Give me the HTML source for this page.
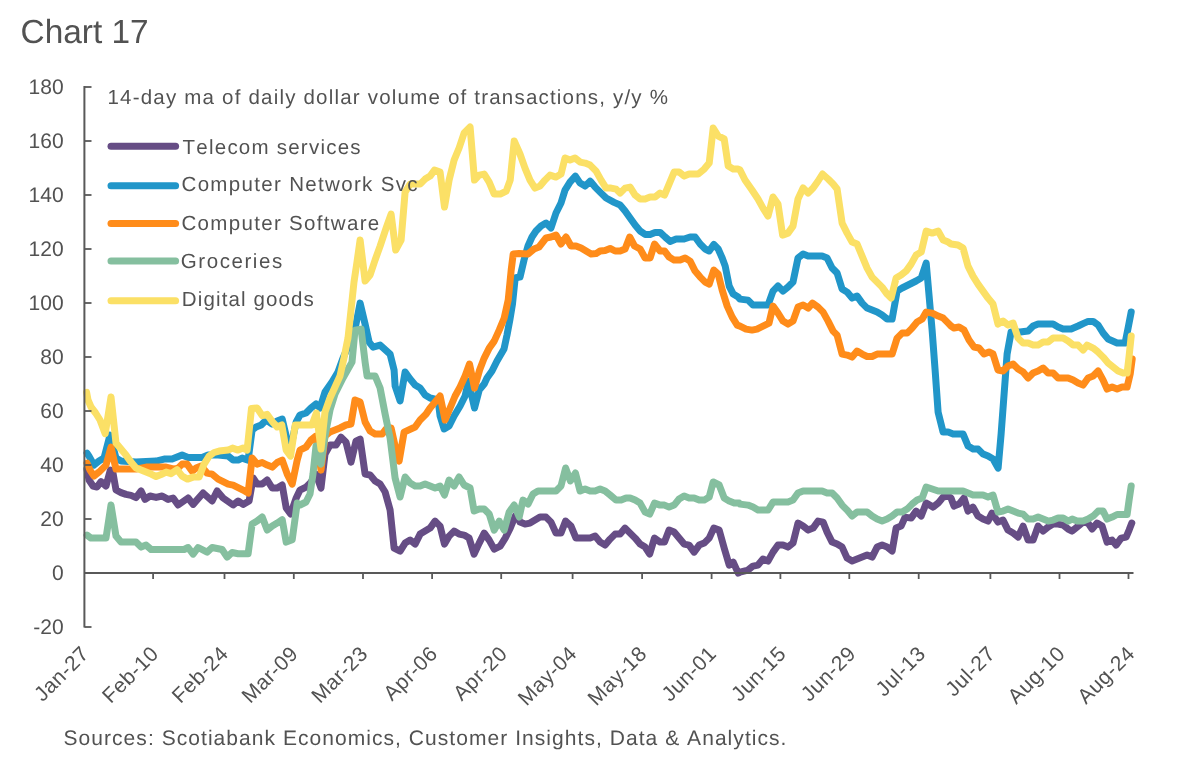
<!DOCTYPE html>
<html><head><meta charset="utf-8"><title>Chart 17</title>
<style>
html,body{margin:0;padding:0;background:#fff;}
body{width:1189px;height:762px;overflow:hidden;position:relative;font-family:"Liberation Sans",sans-serif;}
svg{position:absolute;left:0;top:0;will-change:transform;}
text{font-family:"Liberation Sans",sans-serif;fill:#525252;font-kerning:none;text-rendering:geometricPrecision;}
.ln{fill:none;stroke-width:7;stroke-linejoin:round;stroke-linecap:round;}
</style></head><body>
<svg width="1189" height="762" viewBox="0 0 1189 762">
<rect width="1189" height="762" fill="#fff"/>
<text x="20.6" y="43" font-size="33.4" fill="#5a5a5a">Chart 17</text>
<text x="63.6" y="94.4" font-size="21" text-anchor="end">180</text><text x="63.6" y="148.4" font-size="21" text-anchor="end">160</text><text x="63.6" y="202.4" font-size="21" text-anchor="end">140</text><text x="63.6" y="256.4" font-size="21" text-anchor="end">120</text><text x="63.6" y="310.4" font-size="21" text-anchor="end">100</text><text x="63.6" y="364.4" font-size="21" text-anchor="end">80</text><text x="63.6" y="418.4" font-size="21" text-anchor="end">60</text><text x="63.6" y="472.4" font-size="21" text-anchor="end">40</text><text x="63.6" y="526.4" font-size="21" text-anchor="end">20</text><text x="63.6" y="580.4" font-size="21" text-anchor="end">0</text><text x="63.6" y="634.4" font-size="21" text-anchor="end">-20</text>
<text transform="translate(90.2 655) rotate(-45)" font-size="21" letter-spacing="0.5" text-anchor="end">Jan-27</text><text transform="translate(159.9 655) rotate(-45)" font-size="21" letter-spacing="0.5" text-anchor="end">Feb-10</text><text transform="translate(229.6 655) rotate(-45)" font-size="21" letter-spacing="0.5" text-anchor="end">Feb-24</text><text transform="translate(299.4 655) rotate(-45)" font-size="21" letter-spacing="0.5" text-anchor="end">Mar-09</text><text transform="translate(369.1 655) rotate(-45)" font-size="21" letter-spacing="0.5" text-anchor="end">Mar-23</text><text transform="translate(438.8 655) rotate(-45)" font-size="21" letter-spacing="0.5" text-anchor="end">Apr-06</text><text transform="translate(508.5 655) rotate(-45)" font-size="21" letter-spacing="0.5" text-anchor="end">Apr-20</text><text transform="translate(578.2 655) rotate(-45)" font-size="21" letter-spacing="0.5" text-anchor="end">May-04</text><text transform="translate(648.0 655) rotate(-45)" font-size="21" letter-spacing="0.5" text-anchor="end">May-18</text><text transform="translate(717.7 655) rotate(-45)" font-size="21" letter-spacing="0.5" text-anchor="end">Jun-01</text><text transform="translate(787.4 655) rotate(-45)" font-size="21" letter-spacing="0.5" text-anchor="end">Jun-15</text><text transform="translate(857.1 655) rotate(-45)" font-size="21" letter-spacing="0.5" text-anchor="end">Jun-29</text><text transform="translate(926.8 655) rotate(-45)" font-size="21" letter-spacing="0.5" text-anchor="end">Jul-13</text><text transform="translate(996.6 655) rotate(-45)" font-size="21" letter-spacing="0.5" text-anchor="end">Jul-27</text><text transform="translate(1066.3 655) rotate(-45)" font-size="21" letter-spacing="0.5" text-anchor="end">Aug-10</text><text transform="translate(1136.0 655) rotate(-45)" font-size="21" letter-spacing="0.5" text-anchor="end">Aug-24</text>
<text x="107.5" y="104.3" font-size="20.5" letter-spacing="1.2">14-day ma of daily dollar volume of transactions, y/y %</text>
<text x="63.5" y="744.8" font-size="21" letter-spacing="1.05">Sources: Scotiabank Economics, Customer Insights, Data &amp; Analytics.</text>
<path class="ln" stroke="#664d85" d="M87.0 469.0 L89.0 480.0 L93.0 486.0 L97.0 487.0 L101.0 481.6 L106.0 486.0 L110.4 470.0 L113.0 473.0 L116.0 490.0 L121.0 492.6 L126.0 494.4 L131.0 495.4 L136.0 497.6 L141.1 491.0 L145.1 499.4 L150.1 496.0 L156.1 497.4 L162.1 496.0 L168.1 499.4 L173.1 498.0 L178.1 505.0 L188.1 498.0 L193.1 504.4 L203.1 493.0 L212.1 501.0 L217.1 491.0 L223.1 498.0 L233.1 505.0 L238.1 501.0 L243.1 504.4 L249.1 501.0 L253.1 478.0 L257.1 484.0 L262.2 484.0 L267.2 480.0 L272.2 488.0 L277.2 488.0 L282.2 485.0 L286.2 508.0 L290.6 514.0 L296.2 498.0 L300.0 490.1 L306.0 487.1 L311.0 482.1 L316.0 474.1 L321.0 488.1 L325.0 454.1 L330.0 445.1 L336.0 445.1 L341.0 437.1 L346.0 442.1 L351.0 462.1 L356.0 441.1 L360.1 439.1 L365.1 474.1 L370.1 475.0 L375.1 481.0 L380.1 484.0 L385.1 492.0 L390.1 510.0 L394.1 548.1 L400.1 551.1 L405.1 543.1 L410.1 540.1 L415.1 544.1 L420.1 534.1 L425.1 531.1 L430.1 528.1 L435.1 521.1 L440.1 526.1 L444.5 544.1 L449.1 536.1 L454.1 531.1 L459.1 534.1 L464.1 535.1 L469.1 538.1 L474.1 554.1 L479.2 543.1 L484.2 533.1 L489.2 540.1 L494.2 549.1 L500.2 546.1 L505.2 538.1 L510.2 528.1 L515.2 516.0 L519.2 520.1 L520.0 522.1 L525.0 524.1 L530.0 523.1 L535.0 520.1 L540.0 517.1 L546.0 517.1 L551.0 522.1 L556.0 533.1 L561.0 533.1 L565.6 521.1 L571.0 526.1 L576.0 538.1 L590.1 538.1 L595.1 536.1 L600.1 542.1 L605.1 545.1 L610.1 539.1 L615.1 534.1 L620.1 534.1 L625.1 528.1 L630.1 533.1 L635.1 538.1 L640.1 544.1 L645.1 547.1 L649.7 554.1 L654.5 538.1 L660.1 542.1 L664.5 542.1 L669.1 530.1 L674.1 532.1 L679.1 538.1 L684.1 544.1 L689.1 545.1 L694.1 552.1 L699.2 545.1 L704.2 543.1 L709.2 538.1 L713.8 528.1 L719.2 530.1 L724.2 548.1 L729.2 565.1 L733.2 562.1 L738.2 573.1 L740.0 572.1 L748.0 570.1 L753.0 566.1 L758.0 565.1 L763.0 559.1 L768.0 561.1 L773.0 552.1 L778.0 545.1 L783.0 545.1 L788.0 547.1 L793.0 543.1 L798.0 523.1 L803.1 526.1 L808.1 530.1 L813.1 528.1 L818.1 521.1 L823.1 522.1 L827.1 532.1 L832.1 542.1 L837.1 544.1 L842.1 547.1 L847.1 558.1 L852.1 561.1 L857.1 559.1 L862.1 557.1 L867.1 555.1 L872.1 557.1 L877.1 547.1 L882.1 545.1 L887.1 547.1 L892.1 551.1 L896.1 528.1 L901.1 526.1 L905.1 517.1 L911.1 518.1 L916.1 511.1 L921.2 516.1 L926.2 503.1 L933.2 507.1 L938.2 503.1 L943.2 497.0 L948.2 496.0 L951.0 498.0 L954.0 506.1 L959.0 504.1 L964.0 498.0 L968.0 511.1 L973.0 507.1 L978.0 516.1 L983.0 519.1 L988.0 521.1 L992.0 513.1 L998.0 522.1 L1003.0 520.1 L1008.0 530.1 L1013.1 533.1 L1018.1 537.1 L1023.1 526.1 L1028.1 540.1 L1033.1 540.1 L1038.1 526.1 L1043.1 531.1 L1048.1 527.1 L1053.1 524.1 L1058.1 524.1 L1063.1 525.1 L1068.1 529.1 L1072.1 531.1 L1077.1 527.1 L1083.1 522.1 L1088.1 523.1 L1092.1 529.1 L1097.1 523.1 L1102.1 526.1 L1107.1 542.1 L1112.1 540.1 L1116.1 545.1 L1121.1 538.1 L1126.1 537.1 L1129.1 530.1 L1131.8 523.1"/>
<path class="ln" stroke="#2196c9" d="M87.0 453.1 L89.0 456.1 L94.0 465.1 L99.0 461.1 L104.0 458.1 L110.0 435.1 L116.0 458.1 L121.0 461.1 L136.0 462.1 L156.1 461.1 L164.1 459.1 L172.1 459.1 L182.1 455.1 L188.1 457.5 L202.1 457.5 L208.1 455.1 L218.1 455.1 L228.1 456.1 L233.1 460.1 L238.1 460.1 L242.1 458.1 L248.1 460.1 L252.1 430.1 L256.1 427.0 L261.2 425.0 L266.2 420.0 L272.2 424.0 L277.2 421.0 L282.2 419.0 L286.2 436.1 L290.2 450.1 L296.2 422.0 L300.0 415.0 L306.0 413.0 L311.0 408.0 L316.0 404.0 L320.0 408.0 L325.0 392.0 L332.0 382.0 L338.0 372.0 L343.0 358.1 L350.0 342.1 L356.0 324.1 L360.1 303.1 L365.1 324.1 L369.1 342.1 L373.1 347.1 L380.1 345.1 L390.1 354.1 L394.1 370.1 L395.1 386.0 L400.1 401.0 L405.1 372.0 L410.1 379.0 L415.1 385.0 L420.1 388.0 L425.1 395.0 L430.1 398.0 L438.1 400.0 L440.1 416.0 L444.1 429.0 L449.1 426.0 L454.1 416.0 L460.1 406.0 L465.1 396.0 L468.5 381.0 L474.5 408.0 L479.2 390.0 L484.2 384.0 L487.0 378.0 L492.0 371.0 L497.0 361.0 L504.0 349.0 L507.0 335.0 L510.0 319.0 L512.5 304.0 L515.2 278.0 L519.2 277.0 L520.0 277.1 L524.0 260.1 L528.0 246.0 L532.0 237.0 L536.0 231.0 L541.0 226.0 L546.0 223.0 L551.0 228.0 L556.0 213.0 L561.0 203.0 L565.0 190.1 L570.0 182.1 L575.4 176.1 L580.1 183.1 L585.1 186.1 L590.1 181.1 L595.1 187.1 L600.1 192.1 L606.1 198.0 L614.1 202.4 L620.1 205.0 L625.1 211.0 L630.1 218.0 L635.1 225.0 L640.1 231.0 L645.1 234.4 L650.1 234.4 L655.1 232.4 L660.1 232.4 L665.1 237.0 L670.1 241.4 L676.1 239.0 L684.1 239.0 L690.1 237.0 L695.1 237.0 L700.2 244.0 L705.2 249.0 L709.2 251.0 L713.8 244.4 L718.2 249.0 L722.2 258.0 L725.2 266.1 L729.2 286.1 L733.2 294.1 L738.2 297.1 L740.0 299.1 L748.0 300.1 L753.0 305.1 L768.0 305.1 L773.0 291.1 L778.0 286.0 L783.0 291.1 L788.0 287.0 L793.0 282.0 L798.0 258.0 L803.1 254.0 L808.1 256.0 L822.1 256.0 L827.1 258.0 L832.1 268.0 L837.1 273.0 L842.1 289.0 L847.1 292.1 L852.1 298.1 L857.1 296.1 L862.1 303.1 L867.1 308.1 L872.1 310.1 L877.1 312.1 L882.1 315.1 L887.1 319.1 L892.1 319.1 L897.1 291.1 L902.1 288.0 L916.1 281.0 L921.2 278.0 L926.2 263.0 L932.1 330.0 L935.1 370.0 L938.1 412.1 L943.1 432.1 L948.1 432.1 L953.1 434.1 L963.1 434.1 L968.1 446.1 L973.1 449.1 L978.1 449.1 L983.1 454.1 L988.1 456.1 L993.1 459.1 L998.1 468.1 L1001.1 434.1 L1004.1 394.1 L1007.1 354.0 L1011.1 332.0 L1020.1 332.0 L1028.1 331.0 L1033.1 326.0 L1038.1 324.0 L1053.1 324.0 L1058.1 327.0 L1063.1 329.0 L1071.1 329.0 L1078.1 326.0 L1083.1 323.6 L1088.1 321.4 L1093.1 321.4 L1098.1 325.0 L1103.1 333.0 L1108.1 339.0 L1117.1 343.0 L1125.1 343.0 L1128.1 328.0 L1131.2 312.0"/>
<path class="ln" stroke="#ff8c1a" d="M87.0 463.1 L90.0 470.1 L94.0 476.1 L99.0 472.1 L106.0 465.1 L111.0 447.1 L116.0 469.1 L136.0 469.1 L146.1 467.1 L166.1 467.1 L174.1 469.1 L178.1 468.1 L182.1 464.1 L187.1 464.1 L192.1 471.1 L196.1 468.1 L201.1 466.1 L207.1 473.1 L212.1 474.1 L218.1 479.1 L228.1 484.1 L233.1 485.1 L243.1 490.1 L248.1 493.1 L252.1 458.1 L257.1 464.1 L262.2 462.5 L267.2 465.1 L272.2 467.1 L277.2 462.5 L282.2 460.1 L287.2 474.1 L292.2 484.1 L297.2 460.1 L300.0 450.1 L306.0 447.1 L311.0 440.1 L316.0 436.1 L321.0 470.1 L325.0 436.1 L330.0 432.1 L340.0 428.0 L346.0 425.0 L351.0 424.0 L355.0 400.0 L360.1 402.0 L365.1 422.0 L370.1 431.1 L375.1 434.1 L382.1 434.1 L386.1 429.0 L391.1 428.0 L395.1 446.1 L399.1 461.1 L404.1 432.1 L415.1 427.0 L420.1 420.0 L426.1 414.0 L430.1 408.0 L435.1 402.0 L440.1 396.0 L445.1 420.0 L450.1 408.0 L455.1 396.0 L460.1 387.0 L465.1 376.0 L469.5 364.0 L474.5 388.0 L479.6 370.0 L484.2 358.1 L489.2 348.1 L494.2 341.1 L499.2 330.1 L504.2 318.1 L508.2 300.1 L511.2 270.0 L513.2 254.0 L519.2 253.4 L528.0 254.0 L534.0 249.0 L539.0 247.0 L546.0 238.0 L551.0 237.0 L556.0 235.0 L561.0 244.0 L566.0 237.0 L571.0 246.0 L576.0 246.0 L581.1 248.0 L586.1 251.0 L591.1 254.0 L596.1 253.6 L600.1 251.0 L605.1 250.4 L610.1 248.4 L615.1 251.0 L620.1 251.0 L625.1 249.0 L629.7 237.0 L634.5 246.0 L640.1 249.0 L645.1 258.0 L650.1 258.0 L654.5 244.0 L660.1 251.0 L664.5 251.0 L669.1 257.0 L674.1 260.1 L680.1 260.1 L685.1 258.0 L690.1 261.1 L695.1 271.1 L700.2 277.1 L705.2 282.1 L709.2 284.1 L713.8 270.1 L718.2 274.1 L722.2 290.1 L727.2 306.1 L732.2 317.1 L737.2 325.1 L740.0 326.1 L746.0 329.1 L752.0 330.1 L757.0 329.1 L763.0 326.1 L769.0 323.1 L773.0 306.1 L778.0 313.1 L783.0 321.1 L788.0 324.1 L793.0 321.1 L798.0 307.1 L803.1 305.1 L808.1 308.1 L812.5 303.1 L818.1 307.1 L823.1 312.1 L828.1 321.1 L833.1 331.1 L837.1 335.1 L842.1 354.1 L847.1 355.1 L852.1 357.1 L857.1 351.1 L862.1 354.1 L867.1 356.5 L872.1 356.5 L877.1 354.1 L892.1 354.1 L897.1 338.1 L902.1 333.1 L907.1 333.1 L912.1 328.1 L917.1 322.1 L922.2 319.1 L926.2 312.1 L932.2 313.1 L938.2 316.1 L943.2 318.1 L948.2 323.1 L951.0 326.0 L954.0 328.0 L959.0 327.0 L964.0 330.0 L969.0 340.0 L974.0 347.0 L979.0 348.0 L984.0 354.0 L989.0 352.0 L993.0 354.0 L998.0 370.0 L1003.0 371.0 L1008.0 366.0 L1013.1 364.0 L1018.1 369.0 L1023.1 372.0 L1028.1 378.0 L1033.1 373.0 L1038.1 371.0 L1043.1 368.0 L1048.1 373.0 L1053.1 373.0 L1058.1 378.0 L1068.1 378.0 L1073.1 380.1 L1078.1 383.1 L1083.1 385.1 L1088.1 378.0 L1093.1 376.0 L1098.1 371.0 L1103.1 380.1 L1107.1 389.1 L1112.1 387.1 L1117.1 389.1 L1122.1 387.1 L1127.1 387.1 L1130.2 374.0 L1132.2 359.0"/>
<path class="ln" stroke="#85bf9f" d="M87.0 535.1 L91.0 538.1 L106.0 538.1 L111.0 505.0 L116.0 536.1 L121.0 542.1 L136.0 542.1 L141.1 547.1 L146.1 545.1 L151.1 549.5 L184.1 549.5 L188.1 547.5 L193.1 554.1 L198.1 547.5 L207.1 552.1 L212.1 547.5 L222.1 549.5 L227.1 557.1 L232.1 552.5 L238.1 553.7 L248.1 553.7 L252.1 524.1 L257.1 521.1 L262.2 517.0 L267.2 530.1 L272.2 526.1 L277.2 523.1 L282.2 519.7 L286.2 542.1 L292.2 539.7 L297.2 503.0 L300.0 505.0 L306.0 502.0 L310.0 494.0 L313.0 474.0 L316.0 446.1 L321.0 464.1 L325.0 436.1 L330.0 410.0 L335.0 394.0 L343.0 378.0 L352.0 362.1 L355.0 330.1 L361.1 329.1 L365.1 362.1 L367.1 376.1 L375.1 376.0 L380.1 388.0 L385.1 414.0 L390.1 438.1 L395.1 478.0 L400.1 497.0 L405.1 477.0 L410.1 483.0 L415.1 486.0 L420.1 486.0 L425.1 484.0 L430.1 486.0 L435.1 488.0 L440.1 486.0 L444.5 495.0 L449.1 480.0 L454.1 486.0 L459.1 477.0 L464.1 485.0 L470.1 488.0 L474.1 511.0 L479.2 509.0 L484.2 509.0 L489.2 514.0 L494.2 530.1 L499.2 521.1 L504.2 530.1 L509.2 512.0 L514.2 505.0 L519.2 517.0 L523.0 500.1 L528.0 504.1 L533.0 494.0 L538.0 491.0 L556.0 491.0 L561.0 486.0 L565.6 468.0 L570.4 481.0 L575.4 473.0 L580.1 491.0 L585.1 489.0 L590.1 491.0 L595.1 491.0 L600.1 489.0 L605.1 491.0 L610.1 495.0 L616.1 500.1 L621.1 500.1 L626.1 498.0 L630.1 498.0 L635.1 500.1 L640.1 503.1 L645.1 512.1 L649.7 514.1 L654.5 503.1 L660.1 505.1 L664.5 505.1 L669.1 507.1 L674.1 505.1 L679.1 499.0 L684.1 496.0 L689.1 498.0 L694.1 498.0 L699.2 500.1 L704.2 500.1 L709.2 497.0 L713.2 482.0 L719.2 485.0 L724.2 498.0 L729.2 501.1 L734.2 503.1 L739.2 503.1 L740.0 504.1 L748.0 505.1 L753.0 507.1 L758.0 510.1 L768.0 510.1 L773.0 502.1 L788.0 502.1 L793.0 500.1 L798.0 493.0 L803.1 491.0 L822.1 491.0 L827.1 493.0 L832.1 493.0 L837.1 498.0 L842.1 505.1 L847.1 510.1 L852.1 516.1 L857.1 512.1 L867.1 512.1 L872.1 516.1 L877.1 519.1 L882.1 521.1 L887.1 519.1 L892.1 516.1 L897.1 512.1 L902.1 512.1 L907.1 509.1 L912.1 504.1 L917.1 500.1 L922.2 498.0 L926.2 487.0 L932.2 489.0 L938.2 491.0 L943.2 491.0 L950.2 491.0 L951.0 491.0 L963.0 491.0 L968.0 493.0 L973.0 495.0 L983.0 495.0 L988.0 497.0 L993.0 495.0 L998.0 512.1 L1003.0 511.1 L1008.0 509.1 L1013.1 511.1 L1018.1 513.1 L1023.1 514.1 L1028.1 519.1 L1033.1 519.1 L1038.1 517.1 L1043.1 519.1 L1048.1 521.1 L1053.1 520.1 L1058.1 518.1 L1063.1 518.1 L1068.1 521.1 L1072.1 519.1 L1077.1 521.1 L1083.1 521.1 L1088.1 519.1 L1093.1 516.1 L1098.1 511.1 L1103.1 511.1 L1107.1 519.1 L1112.1 517.1 L1117.1 514.5 L1127.1 514.5 L1129.1 500.1 L1131.2 486.0"/>
<path class="ln" stroke="#fbe066" d="M86.6 392.4 L88.0 400.0 L91.0 407.0 L95.6 413.0 L100.0 420.0 L105.2 433.7 L111.0 397.0 L116.0 443.1 L121.0 449.1 L126.0 455.1 L131.0 462.1 L136.0 468.1 L141.1 470.1 L146.1 472.1 L151.1 474.1 L156.1 476.5 L161.1 474.5 L166.1 472.1 L171.1 473.7 L177.1 469.7 L182.1 476.1 L187.5 479.1 L193.1 477.1 L199.1 477.1 L204.1 464.1 L209.1 456.1 L214.1 452.5 L219.1 451.1 L228.1 450.1 L232.5 448.1 L238.1 450.1 L243.1 448.1 L247.1 450.1 L251.5 408.4 L257.1 408.0 L262.2 415.6 L267.2 414.4 L272.2 421.6 L277.2 427.0 L281.8 425.0 L286.2 450.1 L290.6 456.1 L295.2 425.0 L299.2 425.0 L300.0 425.0 L312.0 425.0 L316.4 413.0 L321.0 449.1 L325.0 412.0 L330.0 398.0 L335.0 387.0 L340.0 376.0 L344.0 358.0 L348.0 338.0 L351.0 310.0 L354.0 282.0 L357.0 262.0 L360.1 240.0 L365.1 281.0 L370.1 275.0 L375.1 260.0 L380.1 246.1 L386.1 228.1 L391.1 214.1 L395.7 250.1 L401.1 240.1 L405.1 192.1 L410.1 184.1 L420.1 184.1 L425.1 179.1 L430.1 176.1 L434.5 170.1 L440.1 172.1 L444.5 207.1 L449.1 180.1 L454.1 160.1 L459.1 148.0 L464.1 133.0 L470.1 127.0 L474.5 180.1 L479.2 175.1 L484.2 174.1 L489.2 182.1 L494.2 194.1 L500.2 194.1 L506.2 191.1 L510.2 180.1 L514.2 141.0 L520.0 154.0 L525.0 168.1 L530.0 180.1 L535.0 188.1 L540.0 186.1 L545.0 180.1 L550.0 175.1 L556.0 177.1 L561.0 174.1 L565.0 158.0 L570.0 160.1 L575.0 158.0 L580.1 162.1 L585.1 163.1 L590.1 165.1 L596.1 171.1 L601.1 180.1 L606.1 188.1 L611.1 188.1 L616.1 189.1 L620.1 193.1 L625.1 188.1 L630.1 187.1 L635.1 195.1 L640.1 199.1 L645.1 199.1 L650.1 197.1 L655.1 197.1 L660.1 193.1 L664.5 195.1 L669.1 184.1 L674.1 172.1 L679.1 172.1 L684.1 176.1 L689.1 174.1 L698.1 174.1 L704.2 169.1 L709.2 163.1 L713.2 128.0 L718.2 136.0 L724.2 139.0 L728.2 166.1 L733.2 169.1 L738.2 169.1 L740.0 170.0 L745.0 180.0 L752.0 190.0 L758.0 199.0 L763.0 208.1 L768.0 216.1 L773.0 197.0 L778.0 204.1 L782.6 235.1 L788.0 233.1 L793.0 226.1 L798.0 199.0 L803.1 188.0 L808.1 193.0 L813.1 188.0 L818.1 181.0 L822.5 174.0 L828.1 179.0 L833.1 184.0 L837.1 189.0 L842.1 223.1 L847.1 233.1 L852.1 242.1 L857.1 244.1 L862.1 256.1 L867.1 268.1 L872.1 277.1 L877.1 282.1 L882.1 287.1 L887.1 294.1 L891.1 298.1 L896.1 278.1 L901.1 275.1 L906.1 271.1 L911.1 264.1 L916.1 255.1 L921.2 252.1 L926.2 231.1 L932.2 233.1 L938.2 231.1 L943.2 240.1 L948.2 242.1 L951.0 244.0 L958.0 245.0 L963.0 248.0 L968.0 266.1 L973.0 276.1 L978.0 284.1 L983.0 291.1 L988.0 298.1 L993.0 304.1 L998.0 324.1 L1003.0 321.1 L1008.0 325.1 L1013.1 323.1 L1018.1 338.1 L1023.1 343.1 L1028.1 343.1 L1033.1 345.1 L1038.1 345.1 L1043.1 342.1 L1048.1 342.1 L1053.1 338.1 L1063.1 338.1 L1068.1 341.1 L1073.1 345.1 L1078.1 345.1 L1083.1 350.1 L1087.1 345.1 L1093.1 348.1 L1098.1 352.1 L1103.1 357.1 L1108.1 363.1 L1113.1 367.1 L1118.1 371.1 L1123.1 373.1 L1127.1 373.1 L1129.1 356.1 L1131.2 336.1"/>
<g stroke="#595959" stroke-width="2" fill="none"><path d="M84.4 86 V627.5"/><path d="M84.5 573 H1133.5"/></g>
<g stroke="#595959" stroke-width="1.8" fill="none"><path d="M84.5 87 H91.5"/><path d="M84.5 141 H91.5"/><path d="M84.5 195 H91.5"/><path d="M84.5 249 H91.5"/><path d="M84.5 303 H91.5"/><path d="M84.5 357 H91.5"/><path d="M84.5 411 H91.5"/><path d="M84.5 465 H91.5"/><path d="M84.5 519 H91.5"/><path d="M84.5 573 H91.5"/><path d="M84.5 627 H91.5"/><path d="M153.1 573 V579"/><path d="M224.5 573 V579"/><path d="M293.8 573 V579"/><path d="M363.0 573 V579"/><path d="M432.1 573 V579"/><path d="M501.2 573 V579"/><path d="M572.6 573 V579"/><path d="M642.1 573 V579"/><path d="M711.6 573 V579"/><path d="M780.4 573 V579"/><path d="M849.3 573 V579"/><path d="M918.7 573 V579"/><path d="M990.4 573 V579"/><path d="M1059.5 573 V579"/><path d="M1128.5 573 V579"/></g>
<path class="ln" stroke="#664d85" d="M111 146.2 H175.6"/><text x="182.6" y="153.7" font-size="20.5" letter-spacing="1.23">Telecom services</text>
<path class="ln" stroke="#2196c9" d="M111 185.8 H175.6"/><text x="181.5" y="191.3" font-size="20.5" letter-spacing="1.33">Computer Network Svc</text>
<path class="ln" stroke="#ff8c1a" d="M111 223.4 H175.6"/><text x="181.5" y="230.2" font-size="20.5" letter-spacing="1.32">Computer Software</text>
<path class="ln" stroke="#85bf9f" d="M111 261.0 H175.6"/><text x="180.8" y="268.0" font-size="20.5" letter-spacing="1.56">Groceries</text>
<path class="ln" stroke="#fbe066" d="M111 300.7 H175.6"/><text x="181.8" y="306.0" font-size="20.5" letter-spacing="1.13">Digital goods</text>
</svg></body></html>
